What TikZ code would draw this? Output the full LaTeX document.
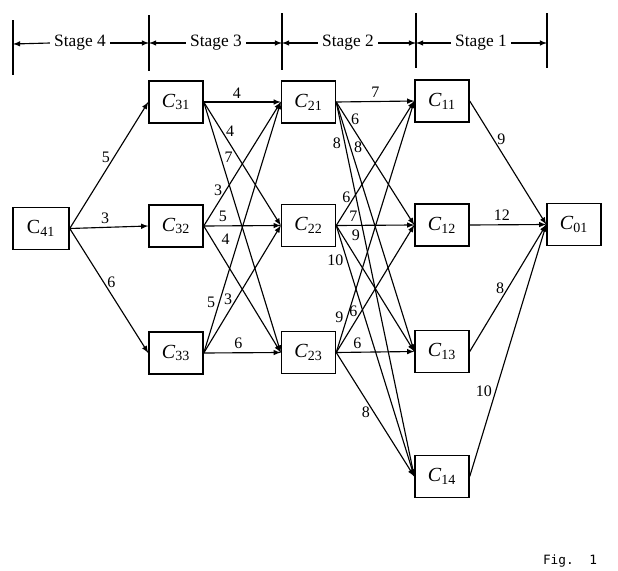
\documentclass[tikz,border=0pt]{standalone}
\usepackage{fontspec}
\setmainfont{Liberation Serif}
\newfontfamily\figfont{DejaVu Sans Mono}
\usetikzlibrary{arrows,positioning}
\newcommand{\cn}[1]{\textit{C}\textsubscript{#1}}

\begin{document}
\begin{tikzpicture}[x=0.75pt,y=0.75pt,yscale=-1,xscale=1,
  cbox/.style={draw,line width=1.1pt,minimum width=40.5pt,minimum height=31.5pt,inner sep=0pt,font=\fontsize{15}{17}\selectfont},
  wt/.style={font=\fontsize{12}{14}\selectfont,inner sep=2.5pt},
  link/.style={-latex,line width=0.85pt},
  stagetxt/.style={font=\fontsize{13}{15}\selectfont,inner sep=3pt},
  divider/.style={line width=1.1pt},
  hdr/.style={-latex,line width=0.85pt}]
\useasboundingbox (0,0) rectangle (618,571);

%Straight Lines (stage dividers)
\draw [divider] (13,20) -- (13,75) ;
\draw [divider] (149,15) -- (149,71) ;
\draw [divider] (282,13) -- (282,70) ;
\draw [divider] (416,13) -- (416,68) ;
\draw [divider] (547,13) -- (547,68) ;
\coordinate (d4) at (13,44);
\coordinate (d3) at (149,43);
\coordinate (d2) at (282,43);
\coordinate (d1) at (416,43);
\coordinate (d0) at (547,43);

% Text Node
\node [stagetxt] (s4) at (80,43) {Stage 4};
% Text Node
\node [stagetxt] (s3) at (216,43) {Stage 3};
% Text Node
\node [stagetxt] (s2) at (348,43) {Stage 2};
% Text Node
\node [stagetxt] (s1) at (481,43) {Stage 1};

\draw [hdr] (s4.west) -- (d4) ;
\draw [hdr] (s4.east) -- (d3) ;
\draw [hdr] (s3.west) -- (d3) ;
\draw [hdr] (s3.east) -- (d2) ;
\draw [hdr] (s2.west) -- (d2) ;
\draw [hdr] (s2.east) -- (d1) ;
\draw [hdr] (s1.west) -- (d1) ;
\draw [hdr] (s1.east) -- (d0) ;

%Shape: Rectangle
\node [cbox,minimum width=42pt] (c41) at (41,228.5) {C\textsubscript{41}};
%Shape: Rectangle
\node [cbox] (c31) at (176,102) {\cn{31}};
\node [cbox] (c32) at (176,226) {\cn{32}};
\node [cbox] (c33) at (176,353) {\cn{33}};
%Shape: Rectangle
\node [cbox] (c21) at (308.5,102) {\cn{21}};
\node [cbox] (c22) at (308.5,225.5) {\cn{22}};
\node [cbox] (c23) at (308.5,352.5) {\cn{23}};
%Shape: Rectangle
\node [cbox] (c11) at (442,101) {\cn{11}};
\node [cbox] (c12) at (442,225) {\cn{12}};
\node [cbox] (c13) at (442,351.5) {\cn{13}};
\node [cbox] (c14) at (442,476.5) {\cn{14}};
%Shape: Rectangle
\node [cbox] (c01) at (574,224.5) {\cn{01}};

%Straight Lines (stage 4)
\draw [link] (c41.east) -- node [wt,pos=.56,left] {5} (c31.west) ;
\draw [link] (c41.east) -- node [wt,pos=.45,above] {3} (c32.west) ;
\draw [link] (c41.east) -- node [wt,pos=.43,right] {6} (c33.west) ;

%Straight Lines (stage 3)
\draw [link] (c31.east) -- node [wt,pos=.43,above] {4} (c21.west) ;
\draw [link] (c31.east) -- node [wt,pos=.24,right] {4} (c22.west) ;
\draw [link] (c31.east) -- node [wt,pos=.22,right] {7} (c23.west) ;
\draw [link] (c32.east) -- node [wt,pos=.29,left] {3} (c21.west) ;
\draw [link] (c32.east) -- node [wt,pos=.25,above] {5} (c22.west) ;
\draw [link] (c32.east) -- node [wt,pos=.18,above right] {4} (c23.west) ;
\draw [link] (c33.east) -- node [wt,pos=.2,left] {5} (c21.west) ;
\draw [link] (c33.east) -- node [wt,pos=.42,left] {3} (c22.west) ;
\draw [link] (c33.east) -- node [wt,pos=.45,above] {6} (c23.west) ;

%Straight Lines (stage 2)
\draw [link] (c21.east) -- node [wt,pos=.5,above] {7} (c11.west) ;
\draw [link] (c21.east) -- node [wt,pos=.14,right] {6} (c12.west) ;
\draw [link] (c21.east) -- node [wt,pos=.18,right] {8} (c13.west) ;
\draw [link] (c21.east) -- node [wt,pos=.11,left] {8} (c14.west) ;
\draw [link] (c22.east) -- node [wt,pos=.23,left] {6} (c11.west) ;
\draw [link] (c22.east) -- node [wt,pos=.22,above] {7} (c12.west) ;
\draw [link] (c22.east) -- node [wt,pos=.15,above right] {9} (c13.west) ;
\draw [link] (c22.east) -- node [wt,pos=.14,left] {10} (c14.west) ;
\draw [link] (c23.east) -- node [wt,pos=.14,left] {9} (c11.west) ;
\draw [link] (c23.east) -- node [wt,pos=.32,left] {6} (c12.west) ;
\draw [link] (c23.east) -- node [wt,pos=.27,above] {6} (c13.west) ;
\draw [link] (c23.east) -- node [wt,pos=.48,left] {8} (c14.west) ;

%Straight Lines (stage 1)
\draw [link] (c11.east) -- node [wt,pos=.31,right] {9} (c01.west) ;
\draw [link] (c12.east) -- node [wt,pos=.42,above] {12} (c01.west) ;
\draw [link] (c13.east) -- node [wt,pos=.5,left] {8} (c01.west) ;
\draw [link] (c14.east) -- node [wt,pos=.34,left] {10} (c01.west) ;

% Text Node
\node [font=\figfont\fontsize{9.6}{11}\selectfont] (fig) at (570,561) {Fig.\ \ 1};

\end{tikzpicture}
\end{document}
